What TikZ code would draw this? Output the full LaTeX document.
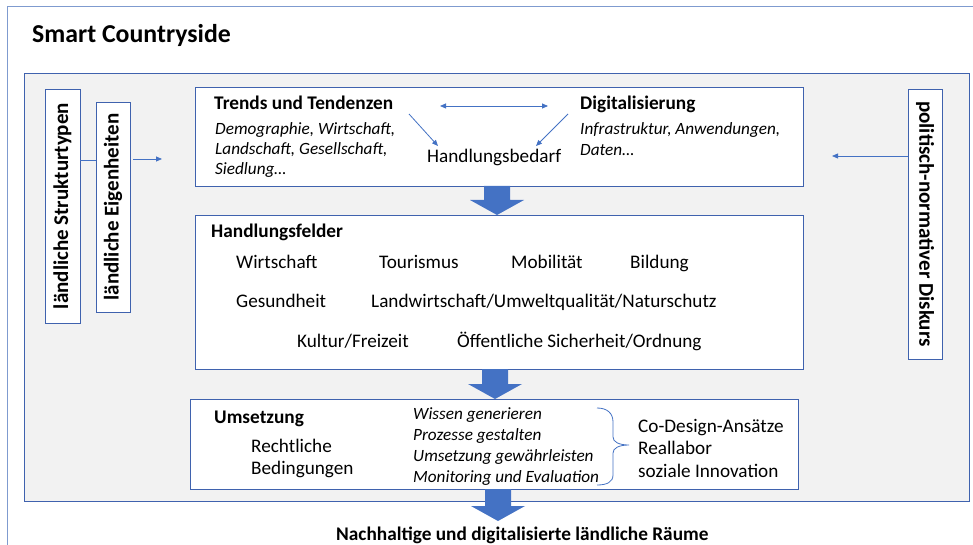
\documentclass[tikz,border=0pt]{standalone}
\usepackage{fontspec}
\setmainfont{Carlito}
\usetikzlibrary{arrows.meta}
\definecolor{bblue}{HTML}{4472C4}
\definecolor{fblue}{HTML}{3F62AE}
\definecolor{gfill}{HTML}{F2F2F2}
\definecolor{oblue}{HTML}{7F9BCF}
\newcommand\myblockarrow[3]{%
  \fill[bblue] (#1-13,#2) -- (#1+13,#2) -- (#1+13,#3-15) -- (#1+27,#3-15) -- (#1,#3)
    -- (#1-27,#3-15) -- (#1-13,#3-15) -- cycle;}
\begin{document}
\begin{tikzpicture}[x=1pt,y=-1pt,
  txt/.style={anchor=base west, inner sep=0pt, font=\fontsize{19.2}{22}\selectfont},
  itx/.style={anchor=base west, inner sep=0pt, align=left, font=\fontsize{17.2}{20.5}\selectfont\itshape},
  hd/.style={anchor=base west, inner sep=0pt, font=\fontsize{19.3}{22}\selectfont\bfseries},
  box/.style={draw=fblue, line width=0.9pt, fill=white, inner sep=0pt, outer sep=0pt, anchor=north west},
  vbox/.style={draw=fblue, line width=0.9pt, fill=white, inner sep=0pt, outer sep=0pt,
     font=\fontsize{21}{24}\selectfont\bfseries},
  thin/.style={draw=bblue, line width=0.8pt},
  arr/.style={thin, -{Triangle[length=6pt,width=5pt]}},
  darr/.style={thin, {Triangle[length=6pt,width=5pt]}-{Triangle[length=6pt,width=5pt]}},
  ]
\useasboundingbox (0,0) rectangle (973,545);
\fill[white] (0,0) rectangle (973,545);
\draw[oblue, line width=1pt] (7,545) -- (7,7) -- (973,7);
\node[anchor=base west, inner sep=0pt, font=\fontsize{25.8}{28}\selectfont\bfseries] (title) at (32,43) {Smart Countryside};

% frame
\node[box, fill=gfill, minimum width=945pt, minimum height=428pt] (frame) at (24,73) {};

% left vertical boxes
\node[vbox, rotate=90, minimum width=234pt, minimum height=35pt] (struk) at (62.5,206) {ländliche Strukturtypen};
\node[vbox, rotate=90, minimum width=210pt, minimum height=34pt] (eigen) at (113,207) {ländliche Eigenheiten};
\node[vbox, rotate=-90, minimum width=270pt, minimum height=34pt] (disk) at (925,224) {politisch-normativer Diskurs};

\coordinate (c160) at (0,160);
\coordinate (c159) at (0,159);
\coordinate (c156) at (0,156);
\draw[thin] (struk.south |- c160) -- (eigen.north |- c160);
\coordinate (inarr) at (162,159);
\draw[arr] ([xshift=3pt]eigen.south |- c159) -- (inarr);
\coordinate (disarr) at (832,156);
\draw[arr] (disk.south |- c156) -- (disarr);

% main boxes
\node[box, minimum width=608pt, minimum height=99pt] (trends) at (195,87) {};
\node[box, minimum width=608pt, minimum height=154pt] (felder) at (195,215) {};
\node[box, minimum width=608pt, minimum height=90pt] (umsetz) at (190,399) {};

% trends content (base anchor = last line)
\node[hd] (tt) at (214,110) {Trends und Tendenzen};
\node[itx, font=\fontsize{17.2}{20}\selectfont\itshape] (tti) at (215,175) {Demographie, Wirtschaft,\\Landschaft, Gesellschaft,\\Siedlung…};
\node[txt] (hb) at (427,163) {Handlungsbedarf};
\node[hd] (dg) at (580,110) {Digitalisierung};
\node[itx, font=\fontsize{17.2}{21}\selectfont\itshape] (dgi) at (580,156) {Infrastruktur, Anwendungen,\\Daten…};
\coordinate (d1) at (440,106);
\coordinate (d2) at (548,106);
\draw[darr] (d1) -- (d2);
\coordinate (g1) at (409,114);
\coordinate (g2) at (438,146);
\coordinate (g3) at (568,114);
\coordinate (g4) at (536,146);
\draw[arr] (g1) -- (g2);
\draw[arr] (g3) -- (g4);

% felder content
\node[hd] (hf) at (211,237) {Handlungsfelder};
\node[txt] (f1) at (236,268) {Wirtschaft};
\node[txt] (f2) at (379,268) {Tourismus};
\node[txt] (f3) at (511,268) {Mobilität};
\node[txt] (f4) at (630,268) {Bildung};
\node[txt] (f5) at (236,307) {Gesundheit};
\node[txt] (f6) at (371,307) {Landwirtschaft/Umweltqualität/Naturschutz};
\node[txt] (f7) at (297,347) {Kultur/Freizeit};
\node[txt] (f8) at (457,347) {Öffentliche Sicherheit/Ordnung};

% umsetzung content
\node[hd] (um) at (214,423) {Umsetzung};
\node[anchor=base west, inner sep=0pt, align=left, font=\fontsize{19.2}{22}\selectfont] (rb) at (251,474) {Rechtliche\\Bedingungen};
\node[itx, font=\fontsize{17.2}{20.7}\selectfont\itshape] (ul) at (413,482) {Wissen generieren\\Prozesse gestalten\\Umsetzung gewährleisten\\Monitoring und Evaluation};
\node[anchor=base west, inner sep=0pt, align=left, font=\fontsize{19.2}{22.5}\selectfont] (cd) at (638,477) {Co-Design-Ansätze\\Reallabor\\soziale Innovation};
\draw[thin] (597,408) .. controls (607,408) and (613,413) .. (613,422) -- (613,437)
  .. controls (613,442) and (619,445) .. (629,445)
  .. controls (619,445) and (613,448) .. (613,453) -- (613,475)
  .. controls (613,482) and (607,485) .. (597,485);

% block arrows
\myblockarrow{497}{186}{215}
\myblockarrow{495}{369}{399}
\myblockarrow{498}{489}{521}

\node[hd] (res) at (336,540) {Nachhaltige und digitalisierte ländliche Räume};
\end{tikzpicture}
\end{document}
